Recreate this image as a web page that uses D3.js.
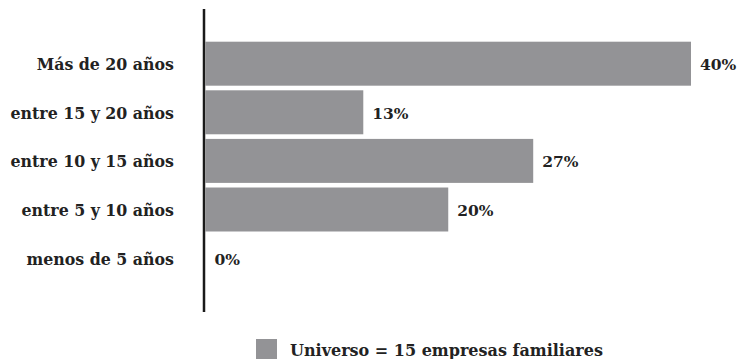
<!DOCTYPE html>
<html><head><meta charset="utf-8">
<script src="https://cdn.jsdelivr.net/npm/d3@7"></script>
<style>body{margin:0;background:#fff}</style>
</head><body>
<svg id="c" width="745" height="359"></svg>
<script>
const categories = ["Más de 20 años","entre 15 y 20 años","entre 10 y 15 años","entre 5 y 10 años","menos de 5 años"];
const values = [40,13,27,20,0];
const legendLabel = "Universo = 15 empresas familiares";

const svg = d3.select("#c");
const font = "'DejaVu Serif', serif";
const barColor = "#939396";
const x = d3.scaleLinear().domain([0,40]).range([205.5,691]);
const y = d3.scaleBand().domain(categories).range([41.7,280.1]).paddingInner(0.095).paddingOuter(0);

svg.selectAll("rect.bar").data(values).enter().append("rect")
  .attr("x", x(0)).attr("y",(d,i)=>y(categories[i]))
  .attr("width", d=>x(d)-x(0)).attr("height", y.bandwidth()).attr("fill", barColor);

svg.append("line").attr("x1",204).attr("x2",204).attr("y1",9).attr("y2",312)
  .attr("stroke","#1a1a1a").attr("stroke-width",2.5);

svg.selectAll("text.cat").data(categories).enter().append("text")
  .attr("x",174).attr("y",d=>y(d)+y.bandwidth()/2+1).attr("dy","0.35em")
  .attr("text-anchor","end").attr("font-family",font).attr("font-weight","bold")
  .attr("font-size",15.8).attr("fill","#222").text(d=>d);

svg.selectAll("text.val").data(values).enter().append("text")
  .attr("x",d=>x(d)+9).attr("y",(d,i)=>y(categories[i])+y.bandwidth()/2+1).attr("dy","0.35em")
  .attr("font-family",font).attr("font-weight","bold")
  .attr("font-size",15.5).attr("fill","#222").text(d=>d+"%");

svg.append("rect").attr("x",256).attr("y",339).attr("width",21).attr("height",21).attr("fill",barColor);
svg.append("text").attr("x",290).attr("y",356).attr("font-family",font).attr("font-weight","bold")
  .attr("font-size",16).attr("fill","#222").text(legendLabel);
</script>
</body></html>
